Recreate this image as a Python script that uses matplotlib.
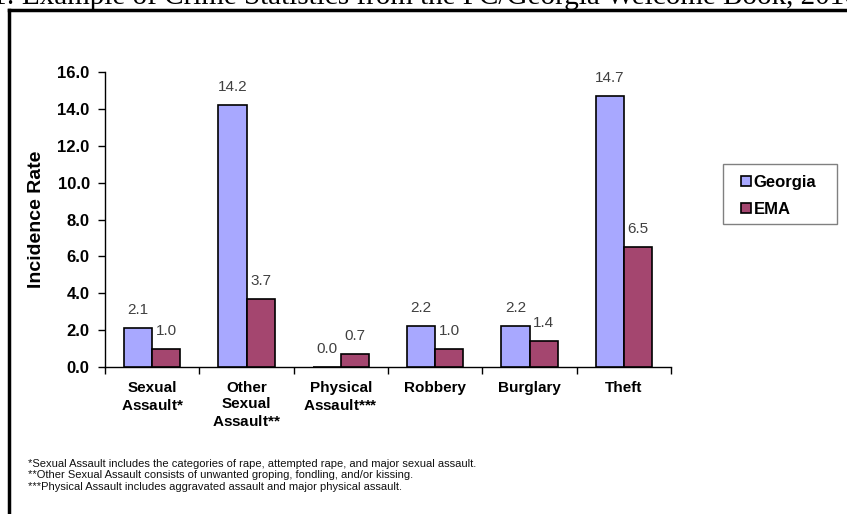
import matplotlib
matplotlib.use("Agg")
import matplotlib.pyplot as plt
import numpy as np
from matplotlib.lines import Line2D
from matplotlib.patches import Patch, Rectangle

plt.rcParams['font.family'] = ['Liberation Sans', 'DejaVu Sans']
plt.rcParams['mathtext.fontset'] = 'custom'
plt.rcParams['mathtext.rm'] = 'Liberation Sans'

categories = ["Sexual\nAssault$\\mathregular{{*}}$", "Other\nSexual\nAssault$\\mathregular{{*}{*}}$",
              "Physical\nAssault$\\mathregular{{*}{*}{*}}$", "Robbery", "Burglary", "Theft"]
georgia = [2.1, 14.2, 0.0, 2.2, 2.2, 14.7]
ema = [1.0, 3.7, 0.7, 1.0, 1.4, 6.5]
yticks = [0, 2, 4, 6, 8, 10, 12, 14, 16]
footnotes = [
    "*Sexual Assault includes the categories of rape, attempted rape, and major sexual assault.",
    "**Other Sexual Assault consists of unwanted groping, fondling, and/or kissing.",
    "***Physical Assault includes aggravated assault and major physical assault.",
]
title = "1: Example of Crime Statistics from the FC/Georgia Welcome Book, 2010"

W, H = 847, 514
fig = plt.figure(figsize=(W / 100, H / 100), dpi=100)
ax = fig.add_axes([105 / W, 1 - 367 / H, (671 - 105) / W, (367 - 72) / H])

c_geo = "#A8A8FF"
c_ema = "#A4466F"
x = np.arange(len(categories))
bw = 0.297
b1 = ax.bar(x - bw / 2, georgia, bw, color=c_geo, edgecolor="black", linewidth=1.2, label="Georgia", zorder=3)
b2 = ax.bar(x + bw / 2, ema, bw, color=c_ema, edgecolor="black", linewidth=1.2, label="EMA", zorder=3)

for bars, vals in ((b1, georgia), (b2, ema)):
    for r, v in zip(bars, vals):
        ax.annotate(f"{v:.1f}", (r.get_x() + r.get_width() / 2, v), xytext=(0, 13),
                    textcoords="offset points", ha="center", va="center",
                    fontsize=11, color="#404040", zorder=2)

ax.set_xlim(-0.5, len(categories) - 0.5)
ax.set_ylim(0, 16)
ax.set_yticks(yticks)
ax.set_yticklabels([f"{t:.1f}" for t in yticks], fontsize=12, fontweight="bold")
ax.set_xticks(np.arange(len(categories) + 1) - 0.5)
ax.set_xticklabels([])
ax.set_xticks(x, minor=True)
ax.set_xticklabels(categories, minor=True, fontsize=11, fontweight="bold", linespacing=1.22, va="top")
ax.tick_params(axis="x", which="minor", length=0, pad=10)
ax.tick_params(axis="x", which="major", length=5, direction="out", width=1)
ax.tick_params(axis="y", length=5, direction="out", width=1, pad=6)
for s in ("top", "right"):
    ax.spines[s].set_visible(False)
ax.spines["left"].set_linewidth(1)
ax.spines["bottom"].set_linewidth(1)
ax.set_ylabel("Incidence Rate", fontsize=14, fontweight="bold", labelpad=9)

handles = [Patch(facecolor=c_geo, edgecolor="black", linewidth=1.2),
           Patch(facecolor=c_ema, edgecolor="black", linewidth=1.2)]
leg = fig.legend(handles, ["Georgia", "EMA"], loc="center left",
                 bbox_to_anchor=(741 / W, 1 - 196 / H),
                 prop={"weight": "bold", "size": 12}, frameon=False,
                 handlelength=0.6, handleheight=0.55, handletextpad=0.15,
                 labelspacing=0.75, borderpad=0, borderaxespad=0)
fig.add_artist(Rectangle((723 / W, 1 - 224 / H), (837 - 723) / W, (224 - 164) / H,
                         transform=fig.transFigure, facecolor="none", edgecolor="#808080", linewidth=1))

for i, t in enumerate(footnotes):
    fig.text(28 / W, 1 - (464 + i * 11.5) / H, t, fontsize=8.0, va="center", ha="left", color="#111111")

fig.text(-8 / W, 1 - 4 / H, title, fontsize=21, family="Liberation Serif", va="baseline", ha="left")

fig.add_artist(Line2D([9 / W, 1.01], [1 - 10 / H, 1 - 10 / H], color="black", linewidth=2.5, transform=fig.transFigure))
fig.add_artist(Line2D([9 / W, 9 / W], [1 - 10 / H, -0.01], color="black", linewidth=2.5, transform=fig.transFigure))

fig.savefig("out.png", dpi=100)
